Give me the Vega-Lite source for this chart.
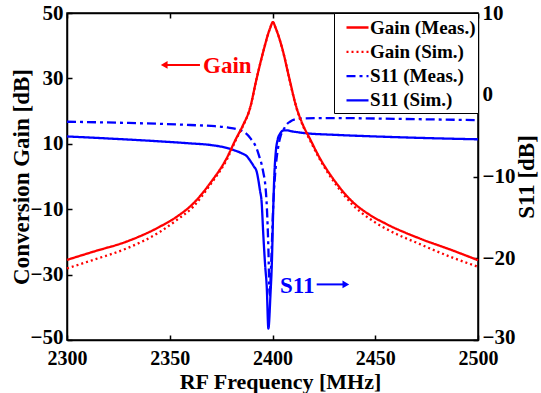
{
  "$schema": "https://vega.github.io/schema/vega-lite/v6.json",
  "width": 411,
  "height": 327,
  "autosize": {"type": "none"},
  "padding": {"left": 67, "top": 13, "right": 63, "bottom": 53},
  "background": "white",
  "config": {
    "font": "Liberation Serif",
    "view": {"stroke": "black", "strokeWidth": 1.5},
    "axis": {
      "labelFont": "Liberation Serif", "labelFontWeight": "bold", "labelFontSize": 21, "labelColor": "black",
      "titleFont": "Liberation Serif", "titleFontWeight": "bold", "titleFontSize": 23, "titleColor": "black",
      "domainColor": "black", "domainWidth": 1.5, "tickColor": "black", "tickWidth": 1.5, "tickSize": -5,
      "grid": false, "labelPadding": 9, "labelFlush": false
    },
    "legend": {
      "orient": "top-right", "offset": 0, "strokeColor": "black", "fillColor": "white", "padding": 2,
      "labelFont": "Liberation Serif", "labelFontWeight": "bold", "labelFontSize": 19, "labelColor": "black",
      "symbolType": "stroke", "symbolSize": 484, "symbolStrokeWidth": 2.3, "rowPadding": 1.3,
      "labelOffset": 0, "symbolOffset": 9, "title": null
    }
  },
  "datasets": {
    "gain": [
      {"f": 2300, "v": -25.5, "series": "Gain (Meas.)"},
      {"f": 2312.8, "v": -23.0, "series": "Gain (Meas.)"},
      {"f": 2329, "v": -19.9, "series": "Gain (Meas.)"},
      {"f": 2345.3, "v": -15.3, "series": "Gain (Meas.)"},
      {"f": 2353.4, "v": -12.3, "series": "Gain (Meas.)"},
      {"f": 2361.5, "v": -8.2, "series": "Gain (Meas.)"},
      {"f": 2369.6, "v": -2.1, "series": "Gain (Meas.)"},
      {"f": 2377.7, "v": 5.6, "series": "Gain (Meas.)"},
      {"f": 2382.2, "v": 11.5, "series": "Gain (Meas.)"},
      {"f": 2385.5, "v": 15.5, "series": "Gain (Meas.)"},
      {"f": 2389, "v": 20.8, "series": "Gain (Meas.)"},
      {"f": 2392.3, "v": 30.0, "series": "Gain (Meas.)"},
      {"f": 2395.5, "v": 38.2, "series": "Gain (Meas.)"},
      {"f": 2398.8, "v": 45.3, "series": "Gain (Meas.)"},
      {"f": 2400.2, "v": 47.2, "series": "Gain (Meas.)"},
      {"f": 2401.6, "v": 45.3, "series": "Gain (Meas.)"},
      {"f": 2404.9, "v": 38.8, "series": "Gain (Meas.)"},
      {"f": 2408, "v": 30.5, "series": "Gain (Meas.)"},
      {"f": 2411.5, "v": 21.5, "series": "Gain (Meas.)"},
      {"f": 2415, "v": 15.5, "series": "Gain (Meas.)"},
      {"f": 2418, "v": 11.8, "series": "Gain (Meas.)"},
      {"f": 2422.7, "v": 6.0, "series": "Gain (Meas.)"},
      {"f": 2430.8, "v": -1.8, "series": "Gain (Meas.)"},
      {"f": 2438.9, "v": -7.7, "series": "Gain (Meas.)"},
      {"f": 2447, "v": -11.6, "series": "Gain (Meas.)"},
      {"f": 2455, "v": -14.4, "series": "Gain (Meas.)"},
      {"f": 2471.4, "v": -18.9, "series": "Gain (Meas.)"},
      {"f": 2487.6, "v": -22.6, "series": "Gain (Meas.)"},
      {"f": 2500, "v": -25.6, "series": "Gain (Meas.)"},
      {"f": 2300, "v": -28.1, "series": "Gain (Sim.)"},
      {"f": 2312.8, "v": -25.5, "series": "Gain (Sim.)"},
      {"f": 2329, "v": -22.0, "series": "Gain (Sim.)"},
      {"f": 2345.3, "v": -16.9, "series": "Gain (Sim.)"},
      {"f": 2353.4, "v": -13.3, "series": "Gain (Sim.)"},
      {"f": 2361.5, "v": -9.2, "series": "Gain (Sim.)"},
      {"f": 2369.6, "v": -2.6, "series": "Gain (Sim.)"},
      {"f": 2377.7, "v": 5.1, "series": "Gain (Sim.)"},
      {"f": 2382.2, "v": 11.2, "series": "Gain (Sim.)"},
      {"f": 2385.5, "v": 15.3, "series": "Gain (Sim.)"},
      {"f": 2389, "v": 20.7, "series": "Gain (Sim.)"},
      {"f": 2392.3, "v": 30.0, "series": "Gain (Sim.)"},
      {"f": 2395.5, "v": 38.2, "series": "Gain (Sim.)"},
      {"f": 2398.8, "v": 45.3, "series": "Gain (Sim.)"},
      {"f": 2400.2, "v": 47.2, "series": "Gain (Sim.)"},
      {"f": 2401.6, "v": 45.3, "series": "Gain (Sim.)"},
      {"f": 2404.9, "v": 38.8, "series": "Gain (Sim.)"},
      {"f": 2408, "v": 30.4, "series": "Gain (Sim.)"},
      {"f": 2411.5, "v": 21.3, "series": "Gain (Sim.)"},
      {"f": 2415, "v": 15.2, "series": "Gain (Sim.)"},
      {"f": 2418, "v": 11.4, "series": "Gain (Sim.)"},
      {"f": 2422.7, "v": 5.6, "series": "Gain (Sim.)"},
      {"f": 2430.8, "v": -2.4, "series": "Gain (Sim.)"},
      {"f": 2438.9, "v": -8.6, "series": "Gain (Sim.)"},
      {"f": 2447, "v": -12.8, "series": "Gain (Sim.)"},
      {"f": 2455, "v": -15.9, "series": "Gain (Sim.)"},
      {"f": 2471.4, "v": -20.6, "series": "Gain (Sim.)"},
      {"f": 2487.6, "v": -24.8, "series": "Gain (Sim.)"},
      {"f": 2500, "v": -27.6, "series": "Gain (Sim.)"}
    ],
    "s11": [
      {"f": 2300, "v": -3.3, "series": "S11 (Meas.)"},
      {"f": 2330, "v": -3.45, "series": "S11 (Meas.)"},
      {"f": 2360, "v": -3.7, "series": "S11 (Meas.)"},
      {"f": 2372, "v": -3.85, "series": "S11 (Meas.)"},
      {"f": 2378, "v": -4.0, "series": "S11 (Meas.)"},
      {"f": 2385.8, "v": -4.5, "series": "S11 (Meas.)"},
      {"f": 2389.5, "v": -5.4, "series": "S11 (Meas.)"},
      {"f": 2392.3, "v": -6.6, "series": "S11 (Meas.)"},
      {"f": 2393.5, "v": -7.5, "series": "S11 (Meas.)"},
      {"f": 2394.7, "v": -8.5, "series": "S11 (Meas.)"},
      {"f": 2395.6, "v": -9.6, "series": "S11 (Meas.)"},
      {"f": 2396.4, "v": -10.8, "series": "S11 (Meas.)"},
      {"f": 2397.3, "v": -14.0, "series": "S11 (Meas.)"},
      {"f": 2398, "v": -18.8, "series": "S11 (Meas.)"},
      {"f": 2398.6, "v": -24.5, "series": "S11 (Meas.)"},
      {"f": 2399.3, "v": -21.0, "series": "S11 (Meas.)"},
      {"f": 2400.4, "v": -13.3, "series": "S11 (Meas.)"},
      {"f": 2401.7, "v": -8.5, "series": "S11 (Meas.)"},
      {"f": 2402.8, "v": -6.35, "series": "S11 (Meas.)"},
      {"f": 2404, "v": -5.0, "series": "S11 (Meas.)"},
      {"f": 2405.3, "v": -4.3, "series": "S11 (Meas.)"},
      {"f": 2407, "v": -3.6, "series": "S11 (Meas.)"},
      {"f": 2408.5, "v": -3.3, "series": "S11 (Meas.)"},
      {"f": 2411, "v": -3.0, "series": "S11 (Meas.)"},
      {"f": 2414, "v": -2.9, "series": "S11 (Meas.)"},
      {"f": 2430, "v": -2.85, "series": "S11 (Meas.)"},
      {"f": 2460, "v": -2.95, "series": "S11 (Meas.)"},
      {"f": 2500, "v": -3.1, "series": "S11 (Meas.)"},
      {"f": 2300, "v": -5.1, "series": "S11 (Sim.)"},
      {"f": 2320, "v": -5.35, "series": "S11 (Sim.)"},
      {"f": 2345, "v": -5.7, "series": "S11 (Sim.)"},
      {"f": 2360, "v": -5.95, "series": "S11 (Sim.)"},
      {"f": 2370, "v": -6.15, "series": "S11 (Sim.)"},
      {"f": 2377.7, "v": -6.5, "series": "S11 (Sim.)"},
      {"f": 2382, "v": -6.85, "series": "S11 (Sim.)"},
      {"f": 2385, "v": -7.15, "series": "S11 (Sim.)"},
      {"f": 2387.4, "v": -7.5, "series": "S11 (Sim.)"},
      {"f": 2389.5, "v": -8.2, "series": "S11 (Sim.)"},
      {"f": 2391, "v": -8.8, "series": "S11 (Sim.)"},
      {"f": 2392.3, "v": -9.4, "series": "S11 (Sim.)"},
      {"f": 2393.1, "v": -10.4, "series": "S11 (Sim.)"},
      {"f": 2393.9, "v": -11.7, "series": "S11 (Sim.)"},
      {"f": 2394.7, "v": -13.1, "series": "S11 (Sim.)"},
      {"f": 2395.5, "v": -17.0, "series": "S11 (Sim.)"},
      {"f": 2396.4, "v": -20.8, "series": "S11 (Sim.)"},
      {"f": 2397.2, "v": -23.5, "series": "S11 (Sim.)"},
      {"f": 2398, "v": -28.6, "series": "S11 (Sim.)"},
      {"f": 2399, "v": -24.5, "series": "S11 (Sim.)"},
      {"f": 2399.7, "v": -20.5, "series": "S11 (Sim.)"},
      {"f": 2400.3, "v": -14.5, "series": "S11 (Sim.)"},
      {"f": 2400.9, "v": -9.8, "series": "S11 (Sim.)"},
      {"f": 2401.6, "v": -7.0, "series": "S11 (Sim.)"},
      {"f": 2402.5, "v": -5.5, "series": "S11 (Sim.)"},
      {"f": 2403.6, "v": -4.8, "series": "S11 (Sim.)"},
      {"f": 2405, "v": -4.4, "series": "S11 (Sim.)"},
      {"f": 2406.5, "v": -4.35, "series": "S11 (Sim.)"},
      {"f": 2410, "v": -4.5, "series": "S11 (Sim.)"},
      {"f": 2416, "v": -4.7, "series": "S11 (Sim.)"},
      {"f": 2430, "v": -4.9, "series": "S11 (Sim.)"},
      {"f": 2450, "v": -5.1, "series": "S11 (Sim.)"},
      {"f": 2475, "v": -5.3, "series": "S11 (Sim.)"},
      {"f": 2500, "v": -5.45, "series": "S11 (Sim.)"}
    ],
    "gainArrow": [{"f": 2347.3, "f2": 2364.7, "v": 34.1}],
    "gainHead": [{"f": 2347.3, "v": 34.1}],
    "gainText": [{"f": 2366.2, "v": 31.65, "label": "Gain"}],
    "s11Arrow": [{"f": 2421.5, "f2": 2435.7, "v": -23.2}],
    "s11Head": [{"f": 2435.7, "v": -23.2}],
    "s11Text": [{"f": 2403.6, "v": -24.3, "label": "S11"}]
  },
  "layer": [
    {
      "encoding": {
        "x": {"field": "f", "type": "quantitative", "scale": {"domain": [2300, 2500], "nice": false},
              "axis": {"orient": "top", "labels": false, "title": null, "values": [2300, 2350, 2400, 2450, 2500]}},
        "y": {"field": "v", "type": "quantitative", "scale": {"domain": [-30, 10], "nice": false},
              "axis": {"orient": "right", "title": "S11 [dB]", "titleAngle": 270, "titleBaseline": "alphabetic", "titleX": 55, "values": [-30, -20, -10, 0, 10],
                       "labelOffset": {"condition": {"test": "datum.value == -30", "value": -3}, "value": 0}}}
      },
      "layer": [
        {
          "data": {"name": "s11"},
          "mark": {"type": "line", "strokeWidth": 2.3, "interpolate": "monotone"},
          "encoding": {
            "color": {"field": "series", "type": "nominal",
                      "scale": {"domain": ["Gain (Meas.)", "Gain (Sim.)", "S11 (Meas.)", "S11 (Sim.)"], "range": ["#ff0000", "#ff0000", "#0000ff", "#0000ff"]},
                      "legend": {"labelExpr": "datum.label + '\u2002'"}},
            "strokeDash": {"field": "series", "type": "nominal",
                      "scale": {"domain": ["Gain (Meas.)", "Gain (Sim.)", "S11 (Meas.)", "S11 (Sim.)"], "range": [[1, 0], [2, 3], [9, 4, 3, 4], [1, 0]]},
                      "legend": {"labelExpr": "datum.label + '\u2002'"}}
          }
        },
        {
          "data": {"name": "s11Arrow"},
          "mark": {"type": "rule", "color": "#0000ff", "strokeWidth": 2},
          "encoding": {"x2": {"field": "f2"}}
        },
        {
          "data": {"name": "s11Head"},
          "mark": {"type": "point", "shape": "triangle-right", "filled": true, "color": "#0000ff", "size": 60, "opacity": 1},
          "encoding": {}
        },
        {
          "data": {"name": "s11Text"},
          "mark": {"type": "text", "color": "#0000ff", "font": "Liberation Serif", "fontWeight": "bold", "fontSize": 23, "align": "left", "baseline": "alphabetic"},
          "encoding": {"text": {"field": "label"}}
        }
      ]
    },
    {
      "encoding": {
        "x": {"field": "f", "type": "quantitative", "scale": {"domain": [2300, 2500], "nice": false},
              "axis": {"orient": "bottom", "title": "RF Frequency [MHz]", "titleFontSize": 22, "titleBaseline": "alphabetic", "titleY": 48, "titleX": 213, "labelPadding": 13, "labelFontSize": 20, "values": [2300, 2350, 2400, 2450, 2500], "format": "d"}},
        "y": {"field": "v", "type": "quantitative", "scale": {"domain": [-50, 50], "nice": false},
              "axis": {"orient": "left", "title": "Conversion Gain [dB]", "titleBaseline": "alphabetic", "titleX": -39, "values": [-50, -30, -10, 10, 30, 50],
                       "labelOffset": {"condition": {"test": "datum.value == -50", "value": -3}, "value": 0}}}
      },
      "layer": [
        {
          "data": {"name": "gain"},
          "mark": {"type": "line", "strokeWidth": 2.3, "interpolate": "monotone"},
          "encoding": {
            "color": {"field": "series", "type": "nominal",
                      "scale": {"domain": ["Gain (Meas.)", "Gain (Sim.)", "S11 (Meas.)", "S11 (Sim.)"], "range": ["#ff0000", "#ff0000", "#0000ff", "#0000ff"]},
                      "legend": {"labelExpr": "datum.label + '\u2002'"}},
            "strokeDash": {"field": "series", "type": "nominal",
                      "scale": {"domain": ["Gain (Meas.)", "Gain (Sim.)", "S11 (Meas.)", "S11 (Sim.)"], "range": [[1, 0], [2, 3], [9, 4, 3, 4], [1, 0]]},
                      "legend": {"labelExpr": "datum.label + '\u2002'"}}
          }
        },
        {
          "data": {"name": "gainArrow"},
          "mark": {"type": "rule", "color": "#ff0000", "strokeWidth": 2},
          "encoding": {"x2": {"field": "f2"}}
        },
        {
          "data": {"name": "gainHead"},
          "mark": {"type": "point", "shape": "triangle-left", "filled": true, "color": "#ff0000", "size": 60, "opacity": 1},
          "encoding": {}
        },
        {
          "data": {"name": "gainText"},
          "mark": {"type": "text", "color": "#ff0000", "font": "Liberation Serif", "fontWeight": "bold", "fontSize": 23, "align": "left", "baseline": "alphabetic"},
          "encoding": {"text": {"field": "label"}}
        }
      ]
    }
  ],
  "resolve": {"scale": {"y": "independent"}, "axis": {"x": "independent"}}
}
